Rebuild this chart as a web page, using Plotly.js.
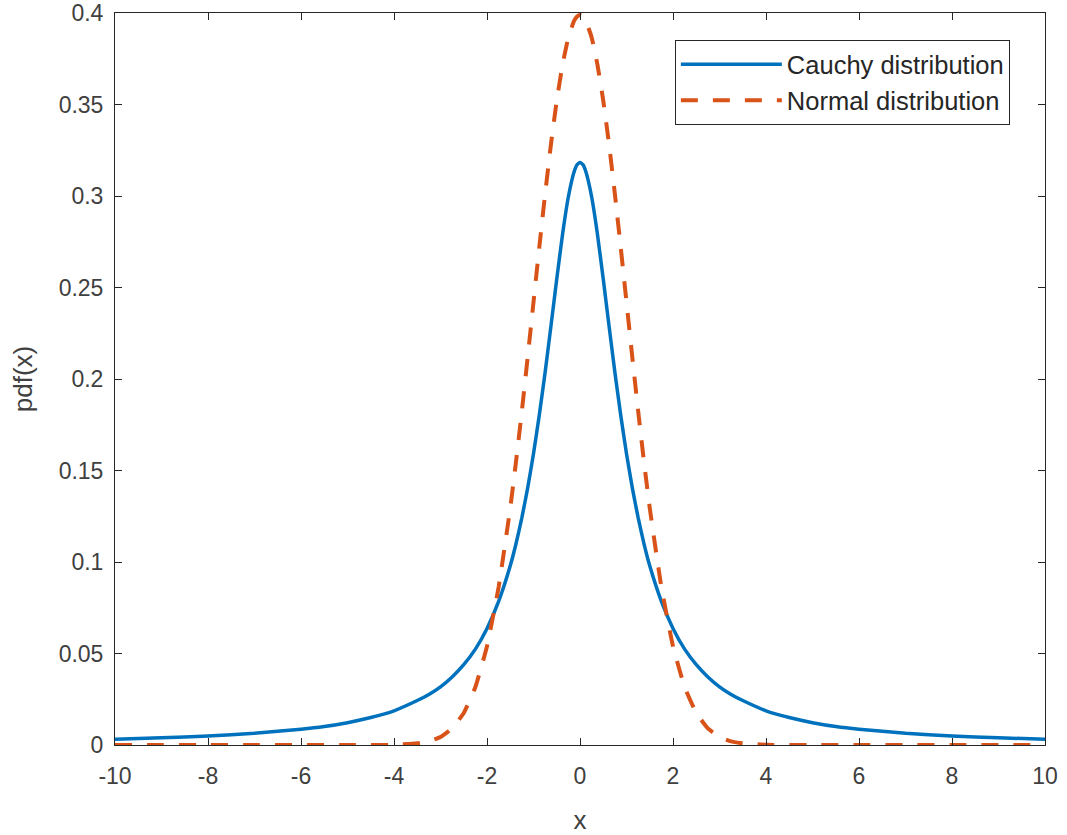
<!DOCTYPE html>
<html>
<head>
<meta charset="utf-8">
<script src="https://cdn.plot.ly/plotly-3.0.1.min.js"></script>
<style>html,body{margin:0;padding:0;background:#fff;}#chart{width:1067px;height:835px;}</style>
</head>
<body>
<div id="chart"></div>
<script>
// x sample positions
const xVals = [-10,-9,-8,-7,-6,-5.5,-5,-4.5,-4,-3.5,-3.25,-3,-2.75,-2.5,-2.25,-2,-1.75,-1.5,-1.375,-1.25,-1.125,-1,-0.875,-0.75,-0.625,-0.5,-0.375,-0.25,-0.125,-0.0625,0,
               0.0625,0.125,0.25,0.375,0.5,0.625,0.75,0.875,1,1.125,1.25,1.375,1.5,1.75,2,2.25,2.5,2.75,3,3.25,3.5,4,4.5,5,5.5,6,7,8,9,10];
// Cauchy distribution pdf values
const cauchyVals = [0.0032,0.0039,0.0049,0.0064,0.0086,0.0101,0.0122,0.0150,0.0187,0.0243,0.0276,0.0318,0.0372,0.0439,0.0524,0.0637,0.0785,0.0979,0.1101,0.1242,0.1405,0.1592,0.1803,0.2037,0.2289,0.2546,0.2791,0.2996,0.3134,0.3171,0.3183,
                    0.3171,0.3134,0.2996,0.2791,0.2546,0.2289,0.2037,0.1803,0.1592,0.1405,0.1242,0.1101,0.0979,0.0785,0.0637,0.0524,0.0439,0.0372,0.0318,0.0276,0.0243,0.0187,0.0150,0.0122,0.0101,0.0086,0.0064,0.0049,0.0039,0.0032];
// Normal distribution pdf values
const normalVals = [0,0,0,0,0,0,0,0,0.0001,0.0009,0.0020,0.0044,0.0091,0.0175,0.0317,0.0540,0.0863,0.1295,0.1550,0.1826,0.2119,0.2420,0.2721,0.3011,0.3282,0.3521,0.3718,0.3867,0.3958,0.3981,0.3989,
                    0.3981,0.3958,0.3867,0.3718,0.3521,0.3282,0.3011,0.2721,0.2420,0.2119,0.1826,0.1550,0.1295,0.0863,0.0540,0.0317,0.0175,0.0091,0.0044,0.0020,0.0009,0.0001,0,0,0,0,0,0,0,0];
const seriesNames = ["Cauchy distribution", "Normal distribution"];
const xTickVals = [-10,-8,-6,-4,-2,0,2,4,6,8,10];
const xTickText = ["-10","-8","-6","-4","-2","0","2","4","6","8","10"];
const yTickVals = [0,0.05,0.1,0.15,0.2,0.25,0.3,0.35,0.4];
const yTickText = ["0","0.05","0.1","0.15","0.2","0.25","0.3","0.35","0.4"];

const fam = '"Liberation Sans", Arial, sans-serif';
const tickFont = {family: fam, size: 23, color: '#404040'};

const traces = [
  {x: xVals, y: cauchyVals, name: seriesNames[0], type: 'scatter', mode: 'lines',
   line: {color: '#0072BD', width: 3.5, shape: 'spline', smoothing: 0.4}},
  {x: xVals, y: normalVals, name: seriesNames[1], type: 'scatter', mode: 'lines',
   line: {color: '#D95319', width: 4, dash: '17px,15px', shape: 'spline', smoothing: 0.4}}
];

const axisCommon = {
  showline: true, linecolor: '#262626', linewidth: 1, mirror: 'ticks',
  ticks: 'inside', ticklen: 7, tickcolor: '#262626', tickwidth: 1,
  showgrid: false, zeroline: false, tickfont: tickFont, tickmode: 'array',
  ticklabeloverflow: 'allow'
};

const layout = {
  width: 1067, height: 835,
  margin: {l: 115, r: 22, t: 13, b: 90},
  paper_bgcolor: '#fff', plot_bgcolor: '#fff',
  font: tickFont,
  showlegend: true,
  legend: {x: 0.602, y: 0.963, xanchor: 'left', yanchor: 'top',
           bgcolor: '#fff', bordercolor: '#262626', borderwidth: 1, itemwidth: 101,
           font: {family: fam, size: 25.5, color: '#262626'}, tracegroupgap: 0},
  xaxis: Object.assign({}, axisCommon, {range: [-10, 10], tickvals: xTickVals, ticktext: xTickText,
    ticklabelstandoff: 10,
    title: {text: 'x', font: {family: fam, size: 26, color: '#404040'}, standoff: 24}}),
  yaxis: Object.assign({}, axisCommon, {range: [0, 0.4], tickvals: yTickVals, ticktext: yTickText,
    ticklabelstandoff: 6,
    title: {text: 'pdf(x)', font: {family: fam, size: 26, color: '#404040'}, standoff: 18}})
};

Plotly.newPlot('chart', traces, layout, {displayModeBar: false, staticPlot: true});
</script>
</body>
</html>
